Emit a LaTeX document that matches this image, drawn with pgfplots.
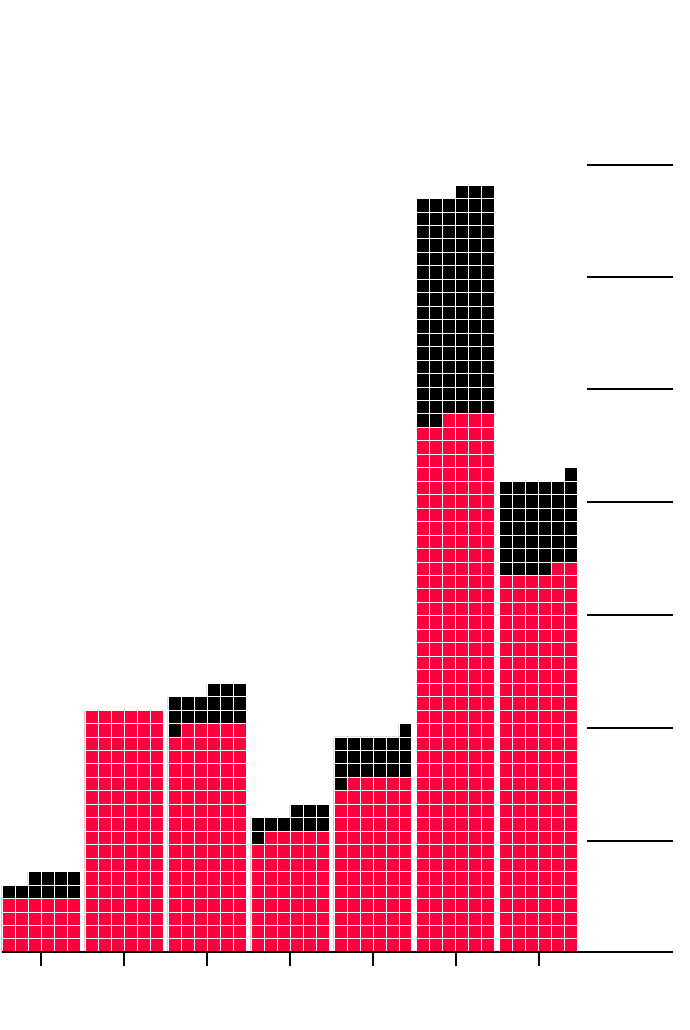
\documentclass[border=0pt]{standalone}
\usepackage{pgfplots}
\pgfplotsset{compat=1.18}
\usepackage{pgfplotstable}
\definecolor{wred}{HTML}{FF003F}

% one row per waffle sub-column (6 per category), heights in units (6 units = one row of squares)
\pgfplotstableread{
x red total
8.5 24 30
21.5 24 30
34.5 24 36
47.5 24 36
60.5 24 36
73.5 24 36
91.5 108 108
104.5 108 108
117.5 108 108
130.5 108 108
143.5 108 108
156.5 108 108
174.5 96 114
187.5 102 114
200.5 102 114
213.5 102 120
226.5 102 120
239.5 102 120
257.5 48 60
270.5 54 60
283.5 54 60
296.5 54 66
309.5 54 66
322.5 54 66
340.5 72 96
353.5 78 96
366.5 78 96
379.5 78 96
392.5 78 96
405.5 78 102
423.5 234 336
436.5 234 336
449.5 240 336
462.5 240 342
475.5 240 342
488.5 240 342
506.5 168 210
519.5 168 210
532.5 168 210
545.5 168 210
558.5 174 210
571.5 174 216
}\waffle

\begin{document}
\begin{tikzpicture}
\begin{axis}[
  scale only axis, width=671pt, height=952.5pt,
  xmin=2, xmax=673, ymin=0, ymax=424.5,
  axis x line=bottom, axis y line=none,
  x axis line style={-, line width=1.8pt, black},
  xtick={41,124,207,290,373,456,539}, xticklabels={},
  tick align=outside, major tick length=14pt,
  xtick style={line width=1.5pt, black},
  axis on top, clip=false,
]
\addplot[ybar, bar width=13, bar shift=0pt, fill=black, draw=white, line width=0.9pt] table[x=x, y=total] {\waffle};
\addplot[ybar, bar width=13, bar shift=0pt, fill=wred, draw=white, line width=0.9pt] table[x=x, y=red] {\waffle};
\pgfplotsinvokeforeach{6,12,...,342}{
  \addplot[white, line width=0.9pt, forget plot] coordinates {(2,#1) (578,#1)};
}
\addplot[black, line width=2pt] coordinates {(587,49.7) (673,49.7)};
\addplot[black, line width=2pt] coordinates {(587,100.1) (673,100.1)};
\addplot[black, line width=2pt] coordinates {(587,150.4) (673,150.4)};
\addplot[black, line width=2pt] coordinates {(587,200.8) (673,200.8)};
\addplot[black, line width=2pt] coordinates {(587,251.2) (673,251.2)};
\addplot[black, line width=2pt] coordinates {(587,301.1) (673,301.1)};
\addplot[black, line width=2pt] coordinates {(587,351.1) (673,351.1)};
\coordinate (ll) at (axis cs:0,-34.6);
\coordinate (ur) at (axis cs:690,424.5);
\end{axis}
\pgfresetboundingbox
\useasboundingbox (ll) rectangle (ur);
\end{tikzpicture}
\end{document}
